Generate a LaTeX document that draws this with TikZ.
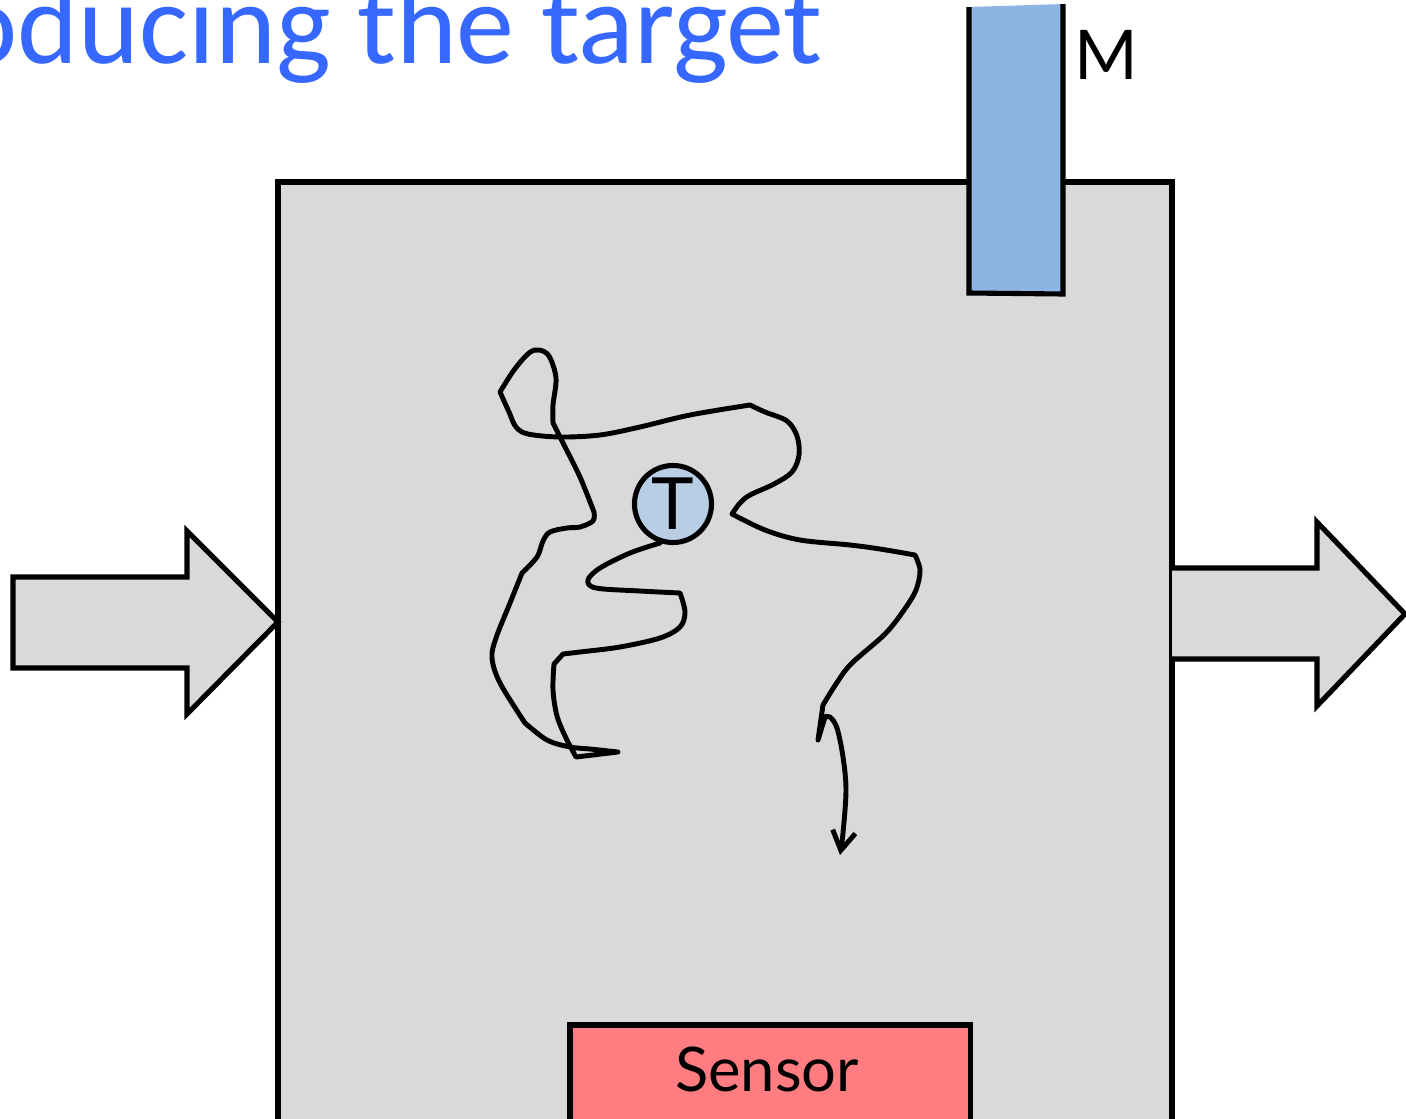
\documentclass[tikz,border=0pt]{standalone}
\usepackage{fontspec}
\setmainfont{Lato}
\newfontfamily\titlefont{Carlito}
\usetikzlibrary{arrows.meta}
\definecolor{chamber}{HTML}{D9D9D9}
\definecolor{sensorred}{HTML}{FF7C80}
\definecolor{barblue}{HTML}{8EB4E3}
\definecolor{targetblue}{HTML}{B9CDE5}
\definecolor{titleblue}{HTML}{3668FF}
\tikzset{
  outline/.style={draw=black, line width=1.45pt, line join=miter},
  flowarrow/.style={outline, fill=chamber},
  walk/.style={draw=black, line width=1.4pt, line join=round, line cap=round},
}
\begin{document}
\begin{tikzpicture}[x=0.01cm, y=-0.01cm]
\clip (0,0) rectangle (1406,1118);
\fill[white] (0,0) rectangle (1406,1118);

% title, running off the top left corner
\node[anchor=base west, inner sep=0pt, text=titleblue, font=\titlefont\fontsize{33}{36}\selectfont]
  (title) at (-44,63) {oducing the target};

% chamber
\path[outline, fill=chamber] (278,182) rectangle (1172,1130);
\coordinate (inlet) at (278,622);
\coordinate (outlet) at (1172,614);

% incoming flow arrow
\path[flowarrow] (13,577) -- (187,577) -- (187,531) -- (inlet) -- (187,714) -- (187,668) -- (13,668) -- cycle;
% outgoing flow arrow
\path[flowarrow] (outlet |- 0,568) -- (1317,568) -- (1317,522) -- (1405,614) -- (1317,706) -- (1317,659) -- (outlet |- 0,659);

% moderator bar entering from above
\fill[barblue] (969,7) -- (1063,4) -- (1063,294) -- (969,293) -- cycle;
\draw[outline] (969,7) -- (969,293) -- (1063,294) -- (1063,4);
\node[anchor=base west, inner sep=0pt, font=\fontsize{19.5}{24}\selectfont] (M) at (1074,80) {M};

% sensor at the bottom
\node[outline, fill=sensorred, anchor=north west, minimum width=4cm, minimum height=1.2cm, inner sep=0pt, outer sep=0pt] (sensor) at (570,1025) {};
\node[font=\fontsize{17.5}{20}\selectfont, anchor=base] (sensorlabel) at (767,1091) {Sensor};

% target
\node[circle, outline, fill=targetblue, minimum size=0.77cm, inner sep=0pt, font=\fontsize{20.5}{24}\selectfont] (T) at (673,504) {T};

% random walk of a particle leaving the target
\draw[walk]
  plot[smooth, tension=0.55] coordinates {(660,543) (630,553) (600,568) (588,580) (596,588) (640,591) (680,593)}
  -- plot[smooth, tension=0.55] coordinates {(680,593) (685,612) (680,627) (660,638) (620,647) (580,652) (563,654)}
  -- (554,664)
  -- plot[smooth, tension=0.55] coordinates {(554,664) (553,690) (557,716) (566,738) (576,757)}
  -- (618,752)
  -- plot[smooth, tension=0.55] coordinates {(618,752) (590,749) (570,747) (547,740) (525,723)}
  -- plot[smooth, tension=0.55] coordinates {(525,723) (500,683) (492,658) (496,638) (510,603) (522,573)}
  -- plot[smooth, tension=0.55] coordinates {(522,573) (537,557) (543,541) (550,532) (567,528) (580,527) (593,521) (594,512)}
  -- plot[smooth, tension=0.4] coordinates {(594,512) (580,477) (560,437) (553,423)}
  -- plot[smooth, tension=0.55] coordinates {(553,423) (553,405) (556,378) (549,356) (539,350) (529,353) (514,370) (500,392)}
  -- plot[smooth, tension=0.55] coordinates {(500,392) (509,412) (516,427) (528,434) (560,437) (600,435) (640,427) (690,415) (750,405)}
  -- plot[smooth, tension=0.55] coordinates {(750,405) (765,412) (787,421) (797,436) (799,455) (792,472) (774,484) (750,495) (740,503) (732,514)}
  -- plot[smooth, tension=0.55] coordinates {(732,514) (765,530) (800,540) (850,545) (880,549) (915,555)}
  -- plot[smooth, tension=0.55] coordinates {(915,555) (920,570) (916,590) (904,610) (885,634) (851,664) (836,684) (823,705)}
  -- (818,740) -- (825,717);
\draw[walk, -{Straight Barb[length=1.9mm, width=2.3mm, line width=1.4pt]}]
  plot[smooth, tension=0.55] coordinates {(825,717) (830,717) (837,728) (843,757) (846,790) (843,833) (840,855)};
\end{tikzpicture}
\end{document}
